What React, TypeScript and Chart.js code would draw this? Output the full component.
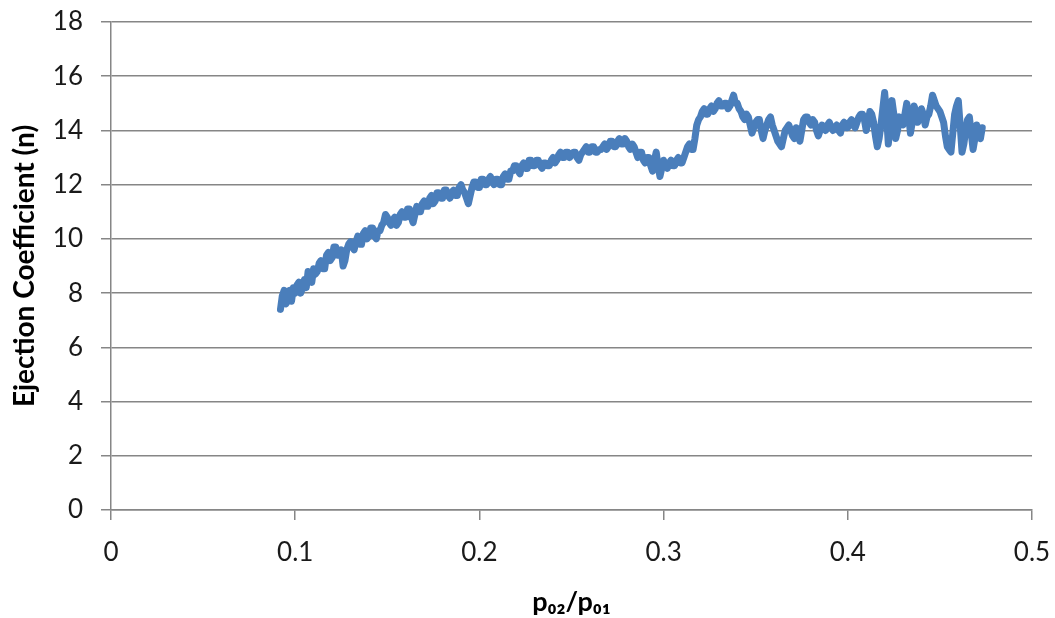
import React, { useEffect, useRef } from "react";
import { Chart, registerables } from "chart.js";

Chart.register(...registerables);

// p02/p01 (x) sampled values
const pressureRatio: number[] = [
  0.092, 0.093, 0.094, 0.095, 0.096, 0.097, 0.098, 0.099, 0.100, 0.101,
  0.102, 0.103, 0.104, 0.105, 0.106, 0.107, 0.108, 0.109, 0.110, 0.111,
  0.112, 0.113, 0.114, 0.115, 0.116, 0.117, 0.118, 0.119, 0.120, 0.121,
  0.122, 0.123, 0.124, 0.125, 0.126, 0.127, 0.128, 0.129, 0.130, 0.131,
  0.132, 0.133, 0.134, 0.135, 0.136, 0.137, 0.138, 0.139, 0.140, 0.141,
  0.142, 0.143, 0.144, 0.145, 0.146, 0.147, 0.148, 0.149, 0.150, 0.151,
  0.152, 0.153, 0.154, 0.155, 0.156, 0.157, 0.158, 0.159, 0.160, 0.161,
  0.162, 0.163, 0.164, 0.165, 0.166, 0.167, 0.168, 0.169, 0.170, 0.171,
  0.172, 0.173, 0.174, 0.175, 0.176, 0.177, 0.178, 0.179, 0.180, 0.181,
  0.182, 0.183, 0.184, 0.185, 0.186, 0.187, 0.188, 0.189, 0.190, 0.191,
  0.192, 0.193, 0.194, 0.195, 0.196, 0.197, 0.198, 0.199, 0.200, 0.201,
  0.202, 0.203, 0.204, 0.205, 0.206, 0.207, 0.208, 0.209, 0.210, 0.211,
  0.212, 0.213, 0.214, 0.215, 0.216, 0.217, 0.218, 0.219, 0.220, 0.221,
  0.222, 0.223, 0.224, 0.225, 0.226, 0.227, 0.228, 0.229, 0.230, 0.231,
  0.232, 0.233, 0.234, 0.235, 0.236, 0.237, 0.238, 0.239, 0.240, 0.241,
  0.242, 0.243, 0.244, 0.245, 0.246, 0.247, 0.248, 0.249, 0.250, 0.251,
  0.252, 0.253, 0.254, 0.255, 0.256, 0.257, 0.258, 0.259, 0.260, 0.261,
  0.262, 0.263, 0.264, 0.265, 0.266, 0.267, 0.268, 0.269, 0.270, 0.271,
  0.272, 0.273, 0.274, 0.275, 0.276, 0.277, 0.278, 0.279, 0.280, 0.281,
  0.282, 0.283, 0.284, 0.285, 0.286, 0.287, 0.288, 0.289, 0.290, 0.291,
  0.292, 0.293, 0.294, 0.295, 0.296, 0.297, 0.298, 0.299, 0.300, 0.301,
  0.302, 0.303, 0.304, 0.305, 0.306, 0.307, 0.308, 0.309, 0.310, 0.311,
  0.312, 0.313, 0.314, 0.315, 0.316, 0.317, 0.318, 0.319, 0.320, 0.321,
  0.322, 0.323, 0.324, 0.325, 0.326, 0.327, 0.328, 0.329, 0.330, 0.331,
  0.332, 0.333, 0.334, 0.335, 0.336, 0.337, 0.338, 0.339, 0.340, 0.341,
  0.342, 0.343, 0.344, 0.345, 0.346, 0.347, 0.348, 0.349, 0.350, 0.351,
  0.352, 0.353, 0.354, 0.355, 0.356, 0.357, 0.358, 0.359, 0.360, 0.361,
  0.362, 0.363, 0.364, 0.365, 0.366, 0.367, 0.368, 0.369, 0.370, 0.371,
  0.372, 0.373, 0.374, 0.375, 0.376, 0.377, 0.378, 0.379, 0.380, 0.381,
  0.382, 0.383, 0.384, 0.385, 0.386, 0.387, 0.388, 0.389, 0.390, 0.391,
  0.392, 0.393, 0.394, 0.395, 0.396, 0.397, 0.398, 0.399, 0.400, 0.401,
  0.402, 0.403, 0.404, 0.405, 0.406, 0.407, 0.408, 0.409, 0.410, 0.411,
  0.412, 0.413, 0.414, 0.415, 0.416, 0.417, 0.418, 0.419, 0.420, 0.421,
  0.422, 0.423, 0.424, 0.425, 0.426, 0.427, 0.428, 0.429, 0.430, 0.431,
  0.432, 0.433, 0.434, 0.435, 0.436, 0.437, 0.438, 0.439, 0.440, 0.441,
  0.442, 0.443, 0.444, 0.445, 0.446, 0.447, 0.448, 0.449, 0.450, 0.451,
  0.452, 0.453, 0.454, 0.455, 0.456, 0.457, 0.458, 0.459, 0.460, 0.461,
  0.462, 0.463, 0.464, 0.465, 0.466, 0.467, 0.468, 0.469, 0.470, 0.471,
  0.472, 0.473,
];

// Ejection coefficient (n)
const ejectionCoefficient: number[] = [
  7.4, 7.9, 8.1, 7.6, 7.8, 8.1, 7.7, 8.2, 8.0, 8.3,
  8.4, 8.0, 8.2, 8.5, 8.2, 8.8, 8.5, 8.4, 8.9, 8.7,
  8.8, 9.1, 9.2, 8.9, 8.9, 9.4, 9.5, 9.2, 9.3, 9.7,
  9.7, 9.4, 9.4, 9.6, 9.0, 9.2, 9.6, 9.8, 9.9, 9.7,
  9.6, 9.9, 10.1, 9.8, 9.8, 10.2, 10.3, 10.0, 10.1, 10.4,
  10.4, 10.1, 10.0, 10.3, 10.3, 10.5, 10.6, 10.9, 10.8, 10.6,
  10.5, 10.7, 10.8, 10.5, 10.6, 10.9, 11.0, 10.8, 10.8, 11.1,
  11.1, 10.8, 10.6, 10.9, 11.2, 11.0, 11.0, 11.3, 11.4, 11.2,
  11.2, 11.5, 11.6, 11.3, 11.4, 11.7, 11.7, 11.5, 11.5, 11.8,
  11.8, 11.6, 11.5, 11.7, 11.8, 11.6, 11.6, 11.9, 12.0, 11.8,
  11.7, 11.5, 11.3, 11.6, 11.9, 12.1, 12.1, 11.9, 11.9, 12.2,
  12.2, 12.0, 12.0, 12.2, 12.3, 12.1, 12.0, 12.2, 12.2, 12.0,
  12.0, 12.3, 12.4, 12.2, 12.2, 12.5, 12.5, 12.7, 12.7, 12.5,
  12.4, 12.7, 12.8, 12.6, 12.6, 12.9, 12.9, 12.7, 12.7, 12.9,
  12.9, 12.7, 12.6, 12.8, 12.8, 12.7, 12.7, 12.9, 13.0, 12.8,
  12.9, 13.1, 13.2, 13.0, 13.0, 13.2, 13.2, 13.0, 13.1, 13.2,
  13.2, 13.0, 12.9, 13.1, 13.2, 13.3, 13.4, 13.2, 13.2, 13.4,
  13.4, 13.2, 13.2, 13.3, 13.3, 13.4, 13.5, 13.3, 13.4, 13.6,
  13.6, 13.4, 13.4, 13.6, 13.7, 13.5, 13.5, 13.7, 13.6, 13.4,
  13.3, 13.5, 13.4, 13.2, 13.0, 13.2, 13.2, 12.9, 12.8, 13.0,
  13.0, 12.7, 12.5, 12.9, 13.2, 12.7, 12.3, 12.6, 12.9, 12.7,
  12.6, 12.8, 12.9, 12.7, 12.7, 12.9, 13.0, 12.8, 12.8, 13.0,
  13.2, 13.4, 13.5, 13.3, 13.3, 13.7, 14.2, 14.4, 14.5, 14.7,
  14.8, 14.6, 14.6, 14.8, 14.9, 14.7, 14.8, 15.0, 15.1, 14.9,
  14.9, 15.0, 15.0, 14.8, 14.9, 15.1, 15.3, 15.0, 15.0, 14.8,
  14.7, 14.5, 14.4, 14.6, 14.5, 14.2, 13.9, 14.1, 14.3, 14.4,
  14.4, 14.0, 13.7, 14.0, 14.2, 14.4, 14.5, 14.2, 14.0, 13.8,
  13.6, 13.5, 13.4, 13.7, 14.0, 14.1, 14.2, 14.0, 13.8, 13.7,
  14.1, 13.9, 13.6, 14.0, 14.4, 14.5, 14.5, 14.3, 14.2, 14.4,
  14.3, 14.0, 13.8, 14.0, 14.2, 14.1, 14.0, 14.2, 14.3, 14.1,
  14.0, 14.1, 14.2, 14.0, 13.9, 14.2, 14.3, 14.1, 14.1, 14.3,
  14.4, 14.2, 14.1, 14.3, 14.5, 14.6, 14.6, 14.4, 14.0, 14.3,
  14.7, 14.6, 14.3, 13.8, 13.4, 13.7, 14.2, 14.8, 15.4, 14.6,
  13.5, 14.2, 15.1, 14.6, 13.7, 14.0, 14.5, 14.4, 14.2, 14.6,
  15.0, 14.6, 13.9, 14.3, 14.9, 14.7, 14.3, 14.5, 14.8, 14.6,
  14.2, 14.5, 14.6, 14.9, 15.3, 15.1, 14.9, 14.8, 14.7, 14.5,
  14.3, 13.8, 13.4, 13.3, 13.2, 13.9, 14.6, 14.9, 15.1, 14.2,
  13.2, 13.5, 14.0, 14.4, 14.5, 13.9, 13.3, 13.7, 14.2, 13.9,
  13.7, 14.1,
];

const xTickLabels: string[] = ["0", "0.1", "0.2", "0.3", "0.4", "0.5"];
const yTickLabels: string[] = ["0", "2", "4", "6", "8", "10", "12", "14", "16", "18"];

const FONT = "Lato, 'Noto Sans', 'DejaVu Sans', sans-serif";

export default function App() {
  const canvasRef = useRef<HTMLCanvasElement | null>(null);

  useEffect(() => {
    document.body.style.margin = "0";
    const canvas = canvasRef.current;
    if (!canvas) return;
    const points = pressureRatio.map((x, i) => ({ x, y: ejectionCoefficient[i] }));
    const chart = new Chart(canvas, {
      type: "line",
      data: {
        datasets: [
          {
            data: points,
            borderColor: "#4A7EBB",
            borderWidth: 7,
            pointRadius: 0,
            fill: false,
            tension: 0,
            borderJoinStyle: "round",
            borderCapStyle: "round",
          },
        ],
      },
      options: {
        responsive: false,
        animation: false,
        layout: { padding: { left: 0, top: 22, right: 23, bottom: 0 } },
        plugins: {
          legend: { display: false },
          tooltip: { enabled: false },
        },
        scales: {
          x: {
            type: "linear",
            min: 0,
            max: 0.5,
            afterFit: (scale: any) => {
              scale.height = 108;
              scale.paddingLeft = 0;
              scale.paddingRight = 0;
            },
            ticks: {
              stepSize: 0.1,
              color: "#1a1a1a",
              padding: 17,
              maxRotation: 0,
              font: { family: FONT, size: 26 },
              callback: (_v: any, i: number) => xTickLabels[i],
            },
            grid: {
              drawOnChartArea: false,
              drawTicks: true,
              tickLength: 10,
              color: "#868686",
              lineWidth: 1.5,
            },
            border: { color: "#868686", width: 1.5 },
            title: {
              display: true,
              text: "p₀₂/p₀₁",
              color: "#000",
              font: { family: FONT, size: 27, weight: "bold" },
              padding: { top: 0, bottom: 0 },
            },
          },
          y: {
            type: "linear",
            min: 0,
            max: 18,
            afterFit: (scale: any) => {
              scale.width = 111;
              scale.paddingTop = 0;
              scale.paddingBottom = 0;
            },
            ticks: {
              stepSize: 2,
              color: "#1a1a1a",
              padding: 18,
              font: { family: FONT, size: 26 },
              callback: (_v: any, i: number) => yTickLabels[i],
            },
            grid: {
              color: "#868686",
              lineWidth: 1.5,
              drawTicks: true,
              tickLength: 10,
            },
            border: { color: "#868686", width: 1.5 },
            title: {
              display: true,
              text: "Ejection Coefficient (n)",
              color: "#000",
              font: { family: FONT, size: 28, weight: "bold" },
              padding: { top: 8, bottom: 0 },
            },
          },
        },
      },
    });
    return () => chart.destroy();
  }, []);

  return (
    <div style={{ position: "absolute", left: 0, top: 0, width: 1055, height: 618, background: "#fff" }}>
      <canvas ref={canvasRef} width={1055} height={618} style={{ display: "block" }} />
    </div>
  );
}
